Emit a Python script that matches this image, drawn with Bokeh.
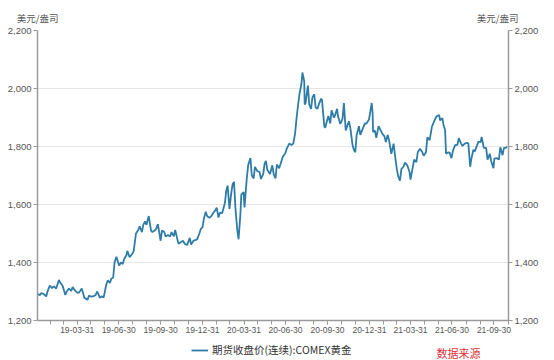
import pandas as pd
from bokeh.plotting import figure
from bokeh.layouts import column
from bokeh.models import (Range1d, LinearAxis, FixedTicker, DatetimeTickFormatter,
                          NumeralTickFormatter, Legend, LegendItem, Label)
from bokeh.embed import file_html
from bokeh.resources import INLINE

# ---------------- data ----------------
dates = [
    "2019-01-03", "2019-01-08", "2019-01-11", "2019-01-16", "2019-01-22", "2019-01-25", "2019-01-30",
    "2019-02-04", "2019-02-08", "2019-02-13", "2019-02-19", "2019-02-22", "2019-02-27", "2019-03-05",
    "2019-03-08", "2019-03-13", "2019-03-18", "2019-03-21", "2019-03-27", "2019-04-01", "2019-04-05",
    "2019-04-10", "2019-04-16", "2019-04-23", "2019-04-26", "2019-05-01", "2019-05-06", "2019-05-10",
    "2019-05-14", "2019-05-20", "2019-05-24", "2019-05-28", "2019-06-03", "2019-06-06", "2019-06-11",
    "2019-06-14", "2019-06-18", "2019-06-21", "2019-06-25", "2019-07-01", "2019-07-05", "2019-07-09",
    "2019-07-12", "2019-07-17", "2019-07-19", "2019-07-24", "2019-07-30", "2019-08-02", "2019-08-07",
    "2019-08-12", "2019-08-15", "2019-08-20", "2019-08-23", "2019-08-27", "2019-08-30", "2019-09-04",
    "2019-09-09", "2019-09-12", "2019-09-17", "2019-09-20", "2019-09-24", "2019-09-30", "2019-10-03",
    "2019-10-08", "2019-10-11", "2019-10-16", "2019-10-21", "2019-10-24", "2019-10-29", "2019-11-01",
    "2019-11-05", "2019-11-08", "2019-11-13", "2019-11-18", "2019-11-22", "2019-11-27", "2019-12-03",
    "2019-12-06", "2019-12-11", "2019-12-16", "2019-12-19", "2019-12-24", "2019-12-27", "2019-12-31",
    "2020-01-03", "2020-01-07", "2020-01-10", "2020-01-15", "2020-01-20", "2020-01-24", "2020-01-28",
    "2020-01-31", "2020-02-04", "2020-02-07", "2020-02-12", "2020-02-18", "2020-02-21", "2020-02-24",
    "2020-02-28", "2020-03-03", "2020-03-06", "2020-03-09", "2020-03-12", "2020-03-16", "2020-03-19",
    "2020-03-23", "2020-03-25", "2020-03-30", "2020-04-01", "2020-04-06", "2020-04-09", "2020-04-14",
    "2020-04-17", "2020-04-21", "2020-04-24", "2020-04-29", "2020-05-04", "2020-05-07", "2020-05-12",
    "2020-05-15", "2020-05-18", "2020-05-21", "2020-05-27", "2020-06-01", "2020-06-04", "2020-06-08",
    "2020-06-11", "2020-06-16", "2020-06-19", "2020-06-24", "2020-06-29", "2020-07-02", "2020-07-08",
    "2020-07-13", "2020-07-17", "2020-07-21", "2020-07-24", "2020-07-28", "2020-07-31", "2020-08-04",
    "2020-08-06", "2020-08-10", "2020-08-11", "2020-08-13", "2020-08-18", "2020-08-21", "2020-08-25",
    "2020-08-28", "2020-09-01", "2020-09-04", "2020-09-08", "2020-09-11", "2020-09-16", "2020-09-18",
    "2020-09-23", "2020-09-25", "2020-09-30", "2020-10-02", "2020-10-06", "2020-10-09", "2020-10-14",
    "2020-10-16", "2020-10-21", "2020-10-23", "2020-10-28", "2020-11-02", "2020-11-05", "2020-11-09",
    "2020-11-11", "2020-11-16", "2020-11-19", "2020-11-24", "2020-11-27", "2020-11-30", "2020-12-03",
    "2020-12-08", "2020-12-11", "2020-12-16", "2020-12-21", "2020-12-24", "2020-12-30", "2021-01-05",
    "2021-01-07", "2021-01-08", "2021-01-12", "2021-01-15", "2021-01-20", "2021-01-25", "2021-01-28",
    "2021-02-02", "2021-02-05", "2021-02-09", "2021-02-12", "2021-02-17", "2021-02-22", "2021-02-25",
    "2021-03-01", "2021-03-04", "2021-03-08", "2021-03-11", "2021-03-16", "2021-03-19", "2021-03-24",
    "2021-03-29", "2021-03-31", "2021-04-05", "2021-04-08", "2021-04-13", "2021-04-16", "2021-04-21",
    "2021-04-26", "2021-04-29", "2021-05-04", "2021-05-07", "2021-05-12", "2021-05-17", "2021-05-20",
    "2021-05-25", "2021-05-28", "2021-06-02", "2021-06-04", "2021-06-09", "2021-06-11", "2021-06-15",
    "2021-06-17", "2021-06-22", "2021-06-25", "2021-06-29", "2021-07-02", "2021-07-07", "2021-07-12",
    "2021-07-15", "2021-07-20", "2021-07-23", "2021-07-28", "2021-08-02", "2021-08-05", "2021-08-09",
    "2021-08-11", "2021-08-16", "2021-08-19", "2021-08-24", "2021-08-27", "2021-09-01", "2021-09-03",
    "2021-09-08", "2021-09-13", "2021-09-16", "2021-09-21", "2021-09-24", "2021-09-29", "2021-10-01",
    "2021-10-06", "2021-10-11", "2021-10-14", "2021-10-19", "2021-10-22", "2021-10-26", "2021-10-29",
]
prices = [
    1292, 1287, 1294, 1292, 1283, 1300, 1320,
    1312, 1318, 1310, 1340, 1330, 1320, 1288,
    1300, 1310, 1302, 1315, 1302, 1295, 1298,
    1310, 1278, 1272, 1286, 1282, 1284, 1287,
    1300, 1278, 1284, 1279, 1325, 1338, 1330,
    1345, 1348, 1400, 1420, 1390, 1400, 1395,
    1412, 1425, 1440, 1418, 1430, 1440, 1500,
    1512, 1525, 1505, 1530, 1542, 1530, 1560,
    1510, 1505, 1510, 1515, 1532, 1475, 1510,
    1505, 1490, 1495, 1490, 1505, 1490, 1512,
    1485, 1465, 1470, 1475, 1465, 1460, 1485,
    1462, 1475, 1478, 1480, 1500, 1515, 1522,
    1552, 1575, 1560, 1554, 1562, 1572, 1580,
    1589, 1555, 1572, 1570, 1605, 1648, 1665,
    1585, 1640, 1670, 1678, 1590, 1515, 1480,
    1567, 1634, 1643, 1590, 1690, 1735, 1760,
    1700, 1690, 1730, 1715, 1712, 1688, 1705,
    1740, 1750, 1720, 1705, 1735, 1705, 1690,
    1738, 1725, 1740, 1765, 1775, 1790, 1810,
    1805, 1810, 1845, 1895, 1950, 1985, 2018,
    2055, 2025, 1945, 1950, 2010, 1945, 1930,
    1970, 1980, 1935, 1930, 1945, 1965, 1960,
    1870, 1865, 1895, 1905, 1880, 1925, 1900,
    1905, 1930, 1905, 1878, 1895, 1950, 1855,
    1865, 1887, 1865, 1805, 1788, 1780, 1840,
    1870, 1840, 1860, 1880, 1878, 1893, 1950,
    1915, 1850, 1855, 1830, 1870, 1855, 1845,
    1835, 1815, 1840, 1822, 1775, 1810, 1770,
    1723, 1698, 1682, 1722, 1731, 1745, 1735,
    1712, 1686, 1728, 1755, 1746, 1780, 1792,
    1780, 1768, 1780, 1832, 1822, 1868, 1880,
    1898, 1905, 1908, 1890, 1898, 1878, 1856,
    1775, 1780, 1778, 1760, 1785, 1805, 1806,
    1829, 1810, 1802, 1810, 1813, 1810, 1730,
    1753, 1789, 1783, 1804, 1817, 1815, 1833,
    1795, 1795, 1755, 1775, 1750, 1725, 1758,
    1760, 1755, 1797, 1770, 1795, 1795, 1800,
]
x_start, x_end = "2019-01-03", "2021-11-01"
y_ticks = [1200, 1400, 1600, 1800, 2000, 2200]
major_dates = ["2019-03-31", "2019-06-30", "2019-09-30", "2019-12-31", "2020-03-31", "2020-06-30",
               "2020-09-30", "2020-12-31", "2021-03-31", "2021-06-30", "2021-09-30"]
series_name = "期货收盘价(连续):COMEX黄金"
unit_label = "美元/盎司"
source_label = "数据来源"

# ---------------- build ----------------
DAY = 86400000.0


def ms(s):
    return float(pd.Timestamp(s).value / 1e6)


xs = pd.to_datetime(dates)
minor_dates = list(pd.date_range("2019-01-31", "2021-10-31", freq="ME"))

FONT = "Liberation Sans"
CJK = "Noto Sans CJK SC"
AX = "#9a9a9a"
TXT = "#555555"
LINE = "#2e7ca8"

p = figure(width=554, height=338, x_axis_type="datetime",
           x_range=Range1d(ms(x_start), ms(x_end)), y_range=Range1d(1200, 2200),
           output_backend="svg", toolbar_location=None,
           min_border_left=37, min_border_right=46, min_border_top=30, min_border_bottom=18)
p.outline_line_color = None
p.xgrid.visible = False
p.ygrid.grid_line_color = "#e6e6e6"
p.ygrid.grid_line_width = 1
p.ygrid.ticker = FixedTicker(ticks=y_ticks)

# x axis
xa = p.xaxis[0]
xa.ticker = FixedTicker(ticks=[ms(d) for d in major_dates],
                        minor_ticks=[float(pd.Timestamp(d).value / 1e6) for d in minor_dates])
fmt = "%y-%m-%d"
xa.formatter = DatetimeTickFormatter(days=fmt, months=fmt, years=fmt, hours=fmt,
                                     minutes=fmt, seconds=fmt, milliseconds=fmt,
                                     microseconds=fmt, minsec=fmt, hourmin=fmt)
xa.axis_line_color = AX
xa.axis_line_width = 1.5
xa.major_tick_line_color = AX
xa.minor_tick_line_color = AX
xa.major_tick_in = 0
xa.major_tick_out = 4
xa.minor_tick_in = 0
xa.minor_tick_out = 4
xa.major_label_text_font = FONT
xa.major_label_text_font_size = "8.5px"
xa.major_label_text_color = TXT
xa.major_label_standoff = 2


def style_y(ax):
    ax.ticker = FixedTicker(ticks=y_ticks)
    ax.formatter = NumeralTickFormatter(format="0,0")
    ax.minor_tick_line_color = None
    ax.axis_line_color = AX
    ax.axis_line_width = 1.5
    ax.major_tick_line_color = AX
    ax.major_tick_in = 0
    ax.major_tick_out = 4
    ax.major_label_text_font = FONT
    ax.major_label_text_font_size = "9.5px"
    ax.major_label_text_color = TXT
    ax.major_label_standoff = 2


style_y(p.yaxis[0])
p.extra_y_ranges = {"r": Range1d(1200, 2200)}
ra = LinearAxis(y_range_name="r")
style_y(ra)
p.add_layout(ra, "right")

p.line(xs, prices, line_color=LINE, line_width=1.8)

# unit labels above both value axes (label-only axis on top)
t_left = ms(x_start) + 0.5 * DAY
t_right = ms("2021-10-08")
ua = LinearAxis(ticker=FixedTicker(ticks=[t_left, t_right]),
                major_label_overrides={t_left: unit_label, t_right: unit_label})
ua.axis_line_color = None
ua.major_tick_line_color = None
ua.minor_tick_line_color = None
ua.major_tick_out = 0
ua.major_tick_in = 0
ua.major_label_standoff = 6
ua.major_label_text_font = CJK
ua.major_label_text_font_size = "9.5px"
ua.major_label_text_color = TXT
p.add_layout(ua, "above")

# ---- footer strip: legend + source note ----
f = figure(width=554, height=22, x_range=Range1d(0, 1), y_range=Range1d(0, 1),
           output_backend="svg", toolbar_location=None,
           x_axis_location=None, y_axis_location=None,
           min_border=0, min_border_left=0, min_border_right=0,
           min_border_top=0, min_border_bottom=0)
f.outline_line_color = None
f.xgrid.visible = False
f.ygrid.visible = False
# legend key: same series, lying outside this strip's ranges so only its key shows
key = f.line(xs, prices, line_color=LINE, line_width=1.8)
legend = Legend(items=[LegendItem(label=series_name, renderers=[key])],
                location=(154, 3), orientation="horizontal",
                label_text_font=CJK, label_text_font_size="10.5px", label_text_color="#333333",
                glyph_width=17, glyph_height=10, label_height=14, label_standoff=4,
                border_line_alpha=0, background_fill_alpha=0, padding=0, margin=0, spacing=0)
f.add_layout(legend, "center")
f.add_layout(Label(x=399, y=0, x_units="screen", y_units="screen", text=source_label,
                   text_align="left", text_baseline="bottom", text_font=CJK,
                   text_font_size="11px", text_color="#e0333a"))

open("out.html", "w").write(file_html(column(p, f, spacing=0), INLINE))
